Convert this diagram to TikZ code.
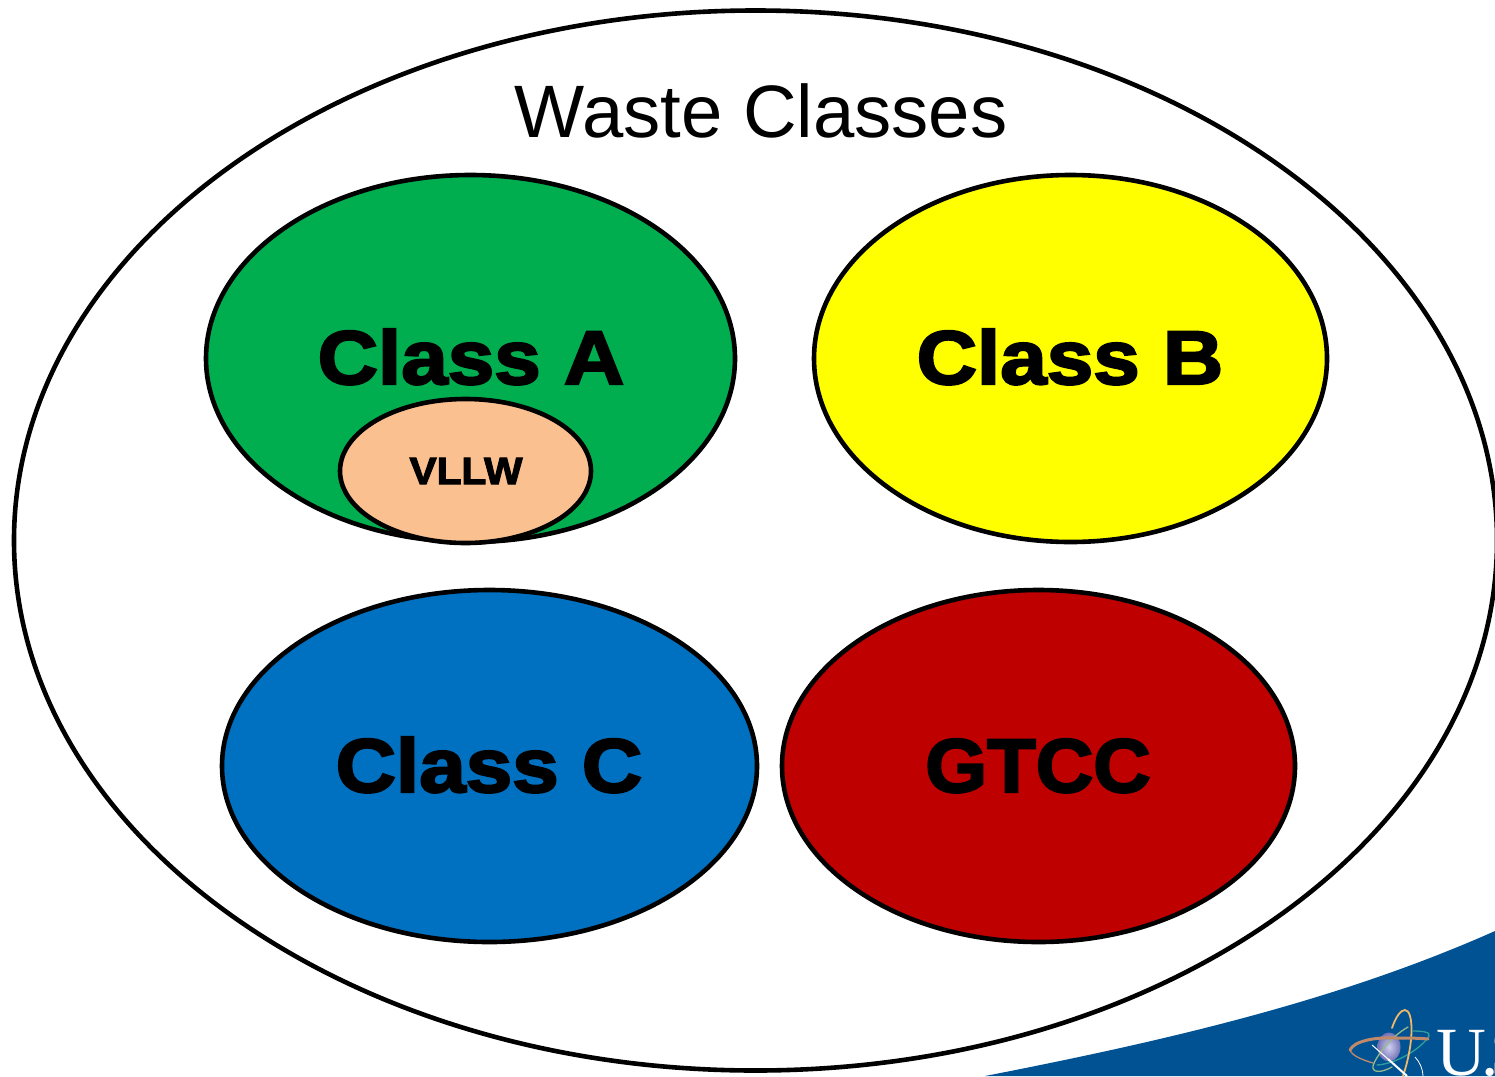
\documentclass[tikz,border=0pt]{standalone}
\usepackage{fontspec}
\usetikzlibrary{shapes.geometric}
\setmainfont{Liberation Sans}
\newfontfamily\heavyfont[FakeBold=3,FakeStretch=1.10]{Liberation Sans Bold}
\newfontfamily\heavyfontG[FakeBold=3,FakeStretch=1.047]{Liberation Sans Bold}
\newfontfamily\heavyfontV[FakeBold=3,FakeStretch=1.07]{Liberation Sans Bold}
\newfontfamily\logofont{Liberation Serif}
\definecolor{clsA}{HTML}{00AE50}
\definecolor{clsB}{HTML}{FFFF00}
\definecolor{clsC}{HTML}{0070C0}
\definecolor{clsG}{HTML}{BE0000}
\definecolor{clsV}{HTML}{FBC08F}
\definecolor{banner}{HTML}{005293}
\definecolor{orbitBrown}{HTML}{C08A6A}
\definecolor{orbitGold}{HTML}{F0B868}
\definecolor{orbitTeal}{HTML}{2FA09A}
\definecolor{orbitGreen}{HTML}{98B88A}
\tikzset{
  blob/.style={ellipse,draw=black,line width=4.6pt,inner sep=0pt,outer sep=0pt},
  classlabel/.style={font=\heavyfont\fontsize{76}{76}\selectfont,text=black,anchor=base,inner sep=0pt},
  orbit/.style={line width=1.3pt,line cap=round}
}
\begin{document}
\begin{tikzpicture}[x=1pt,y=-1pt]
\useasboundingbox (0,0) rectangle (1495,1076);
\fill[white] (0,0) rectangle (1495,1076);
\begin{scope}
\clip (0,0) rectangle (1495,1076);
\fill[banner] (985,1076) .. controls (1170,1040) and (1340,1000) .. (1495,931) -- (1495,1076) -- cycle;
\node[blob,fill=none,minimum width=1483pt,minimum height=1060pt] (outer) at (755.5,540.5) {};
% logo
\shade[inner color=white!85!blue!90!gray,outer color=blue!30!gray!85!white] (1389,1047) ellipse (11.5pt and 14.5pt);
\draw[orbit,color=orbitBrown] (1350,1050) .. controls (1352,1056) and (1363,1060) .. (1373,1063);
\draw[orbit,color=orbitTeal] (1377,1065) .. controls (1395,1064) and (1420,1050) .. (1429,1036) .. controls (1431,1032) and (1422,1031) .. (1413,1031);
\draw[orbit,color=orbitGreen] (1408,1027) .. controls (1390,1037) and (1375,1058) .. (1373,1066) .. controls (1372,1073) and (1381,1073) .. (1392,1067);
\draw[orbit,color=orbitGold,line width=1.8pt] (1392,1028) .. controls (1396,1016) and (1401,1010) .. (1405,1010) .. controls (1413,1010) and (1415,1040) .. (1403,1076);
\draw[line width=3pt,color=orbitBrown,line cap=round] (1350,1050) .. controls (1354,1041) and (1375,1037) .. (1395,1038) .. controls (1405,1038) and (1418,1038) .. (1428,1039);
\draw[white,line width=1pt] (1372,1045) -- (1388,1059);
\draw[white,line width=2pt] (1388,1059) -- (1407,1076);
\draw[white,line width=0.8pt] (1415,1057) .. controls (1420,1062) and (1423,1070) .. (1423,1076);
\node[anchor=base west,inner sep=0pt,text=white,font=\logofont\fontsize{69}{69}\selectfont] (logo) at (1436,1075) {U\kern-5pt.\kern-8pt S};
\end{scope}
\node[anchor=base,inner sep=0pt,font=\fontsize{74.3}{74.3}\selectfont] (title) at (761,137) {Waste Classes};
\node[blob,fill=clsA,minimum width=529pt,minimum height=367pt] (a) at (470.5,358.5) {};
\node[classlabel] (alabel) at (471,384) {Class A};
\node[blob,fill=clsV,minimum width=251pt,minimum height=144pt] (v) at (465.5,471) {};
\node[anchor=base,inner sep=0pt,font=\heavyfontV\fontsize{38}{38}\selectfont] (vlabel) at (466,484) {VLLW};
\node[blob,fill=clsB,minimum width=513pt,minimum height=367pt] (b) at (1070.5,358.5) {};
\node[classlabel] (blabel) at (1070,384) {Class B};
\node[blob,fill=clsC,minimum width=535pt,minimum height=352pt] (c) at (489.5,766) {};
\node[classlabel] (clabel) at (489,792) {Class C};
\node[blob,fill=clsG,minimum width=513pt,minimum height=352pt] (g) at (1038.5,766) {};
\node[anchor=base,inner sep=0pt,font=\heavyfontG\fontsize{76}{76}\selectfont] (glabel) at (1038,792) {GTCC};
\end{tikzpicture}
\end{document}
